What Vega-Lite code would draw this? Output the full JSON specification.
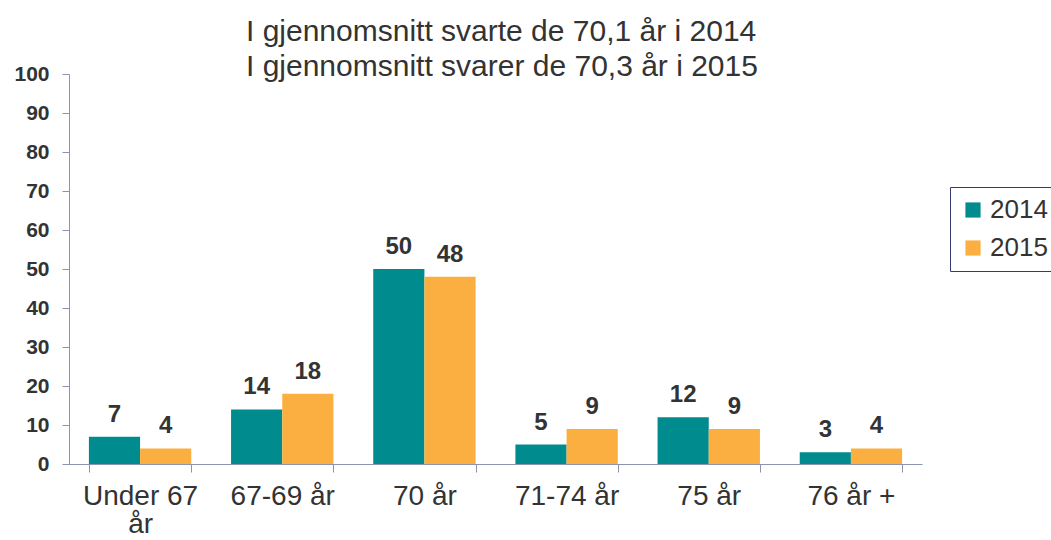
{
  "$schema": "https://vega.github.io/schema/vega-lite/v6.json",
  "autosize": "none",
  "width": 853,
  "height": 390,
  "padding": {"left": 69, "top": 74, "right": 129, "bottom": 76},
  "background": "white",
  "title": {
    "text": ["I gjennomsnitt svarte de 70,1 år i 2014", "I gjennomsnitt svarer de 70,3 år i 2015"],
    "anchor": "start",
    "dx": 232,
    "dy": 25,
    "offset": 6,
    "font": "Liberation Sans",
    "fontSize": 30,
    "fontWeight": "normal",
    "color": "#333333",
    "lineHeight": 35
  },
  "data": {
    "values": [
      {"kategori": "Under 67 år", "år": "2014", "prosent": 7},
      {"kategori": "Under 67 år", "år": "2015", "prosent": 4},
      {"kategori": "67-69 år", "år": "2014", "prosent": 14},
      {"kategori": "67-69 år", "år": "2015", "prosent": 18},
      {"kategori": "70 år", "år": "2014", "prosent": 50},
      {"kategori": "70 år", "år": "2015", "prosent": 48},
      {"kategori": "71-74 år", "år": "2014", "prosent": 5},
      {"kategori": "71-74 år", "år": "2015", "prosent": 9},
      {"kategori": "75 år", "år": "2014", "prosent": 12},
      {"kategori": "75 år", "år": "2015", "prosent": 9},
      {"kategori": "76 år +", "år": "2014", "prosent": 3},
      {"kategori": "76 år +", "år": "2015", "prosent": 4}
    ]
  },
  "encoding": {
    "x": {
      "field": "kategori",
      "type": "nominal",
      "sort": null,
      "title": null,
      "scale": {"paddingInner": 0.28, "paddingOuter": 0.14},
      "axis": {
        "labelAngle": 0,
        "labelFont": "Liberation Sans",
        "labelFontSize": 28,
        "labelColor": "#333333",
        "labelPadding": 10,
        "labelExpr": "datum.label == 'Under 67 år' ? ['Under 67', 'år'] : datum.label",
        "labelLineHeight": 28,
        "domainColor": "#8a94b0",
        "tickColor": "#8a94b0",
        "tickBand": "extent",
        "tickSize": 8,
        "grid": false
      }
    },
    "xOffset": {"field": "år", "type": "nominal"},
    "y": {
      "field": "prosent",
      "type": "quantitative",
      "title": null,
      "scale": {"domain": [0, 100]},
      "axis": {
        "values": [0, 10, 20, 30, 40, 50, 60, 70, 80, 90, 100],
        "labelFont": "Liberation Sans",
        "labelFontSize": 21,
        "labelFontWeight": "bold",
        "labelColor": "#333333",
        "labelPadding": 13,
        "domainColor": "#8a94b0",
        "tickColor": "#8a94b0",
        "tickSize": 7,
        "grid": false
      }
    }
  },
  "layer": [
    {
      "mark": {"type": "bar"},
      "encoding": {
        "color": {
          "field": "år",
          "type": "nominal",
          "scale": {"domain": ["2014", "2015"], "range": ["#008B8E", "#FAAF40"]},
          "legend": {
            "title": null,
            "orient": "none",
            "legendX": 881,
            "legendY": 113,
            "symbolType": "square",
            "symbolSize": 230,
            "symbolStrokeWidth": 0,
            "labelFont": "Liberation Sans",
            "labelFontSize": 26,
            "labelColor": "#333333",
            "labelOffset": 4,
            "rowPadding": 12,
            "strokeColor": "#2f3e6e",
            "padding": 10
          }
        }
      }
    },
    {
      "mark": {
        "type": "text",
        "baseline": "bottom",
        "dy": -10,
        "font": "Liberation Sans",
        "fontSize": 24,
        "fontWeight": "bold",
        "color": "#333333"
      },
      "encoding": {
        "text": {"field": "prosent", "type": "quantitative"}
      }
    }
  ],
  "config": {"view": {"stroke": null}}
}
